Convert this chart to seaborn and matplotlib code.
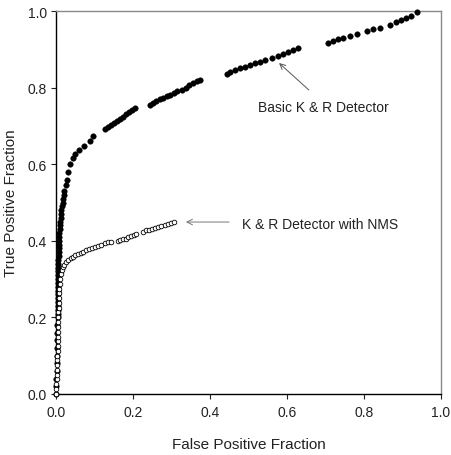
import matplotlib
matplotlib.use("Agg")
import matplotlib.pyplot as plt
import seaborn as sns
import pandas as pd

# Basic K & R detector (filled dots)
basic_fpf = [0.000, 0.001, 0.001, 0.002, 0.002, 0.002, 0.003, 0.003, 0.003, 0.003,
             0.004, 0.004, 0.004, 0.004, 0.004, 0.004, 0.005, 0.005, 0.005, 0.005,
             0.005, 0.005, 0.006, 0.006, 0.006, 0.006, 0.007, 0.007, 0.007, 0.008,
             0.008, 0.009, 0.009, 0.010, 0.010, 0.011, 0.012, 0.013, 0.014, 0.015,
             0.017, 0.018, 0.020, 0.022, 0.025, 0.028,
             0.030, 0.036, 0.043, 0.050, 0.060, 0.072, 0.088, 0.097,
             0.127, 0.135, 0.143, 0.150, 0.158, 0.166, 0.174, 0.182, 0.190, 0.198, 0.205,
             0.244, 0.252, 0.261, 0.270, 0.279, 0.288, 0.297, 0.306, 0.315, 0.326,
             0.337, 0.346, 0.355, 0.365, 0.374,
             0.443, 0.452, 0.465, 0.478, 0.491, 0.504, 0.517, 0.530, 0.543, 0.560,
             0.577, 0.590, 0.603, 0.616, 0.629,
             0.707, 0.720, 0.733, 0.746, 0.763, 0.781, 0.807, 0.824, 0.841, 0.867,
             0.884, 0.897, 0.910, 0.923, 0.937]
basic_tpf = [0.000, 0.020, 0.040, 0.060, 0.080, 0.100, 0.120, 0.140, 0.160, 0.180,
             0.200, 0.210, 0.220, 0.230, 0.240, 0.250, 0.260, 0.270, 0.280, 0.290,
             0.300, 0.310, 0.320, 0.330, 0.340, 0.350, 0.360, 0.370, 0.380, 0.390,
             0.400, 0.410, 0.420, 0.430, 0.440, 0.450, 0.460, 0.470, 0.480, 0.490,
             0.500, 0.510, 0.520, 0.530, 0.545, 0.560,
             0.580, 0.600, 0.615, 0.627, 0.637, 0.648, 0.661, 0.674,
             0.692, 0.697, 0.703, 0.708, 0.714, 0.719, 0.724, 0.730, 0.736, 0.741, 0.746,
             0.755, 0.760, 0.764, 0.769, 0.773, 0.777, 0.781, 0.786, 0.790, 0.795,
             0.800, 0.806, 0.811, 0.816, 0.821,
             0.836, 0.840, 0.845, 0.850, 0.855, 0.859, 0.863, 0.867, 0.871, 0.876,
             0.882, 0.889, 0.893, 0.898, 0.904,
             0.916, 0.922, 0.926, 0.930, 0.935, 0.941, 0.948, 0.953, 0.956, 0.964,
             0.972, 0.976, 0.981, 0.987, 0.997]

# K & R detector with NMS (open circles)
nms_fpf = [0.001, 0.001, 0.001, 0.002, 0.002, 0.002, 0.003, 0.003, 0.003, 0.004,
           0.004, 0.004, 0.005, 0.005, 0.005, 0.006, 0.006, 0.006, 0.007, 0.007,
           0.008, 0.008, 0.009, 0.010, 0.011, 0.012,
           0.015, 0.018, 0.022, 0.027, 0.032, 0.038, 0.044, 0.050, 0.057, 0.064,
           0.071, 0.078, 0.086, 0.094, 0.102, 0.110, 0.118, 0.126, 0.134, 0.142,
           0.160, 0.167, 0.174, 0.181, 0.188, 0.195, 0.202, 0.208,
           0.226, 0.234, 0.242, 0.250, 0.258, 0.266, 0.274, 0.282, 0.290, 0.298, 0.306]
nms_tpf = [0.000, 0.013, 0.025, 0.038, 0.050, 0.063, 0.075, 0.088, 0.100, 0.113,
           0.125, 0.138, 0.150, 0.163, 0.175, 0.188, 0.200, 0.213, 0.225, 0.238,
           0.250, 0.263, 0.275, 0.288, 0.300, 0.313,
           0.325, 0.332, 0.338, 0.344, 0.349, 0.354, 0.358, 0.362, 0.366, 0.369,
           0.372, 0.375, 0.378, 0.381, 0.384, 0.387, 0.390, 0.393, 0.396, 0.398,
           0.400, 0.402, 0.404, 0.406, 0.409, 0.412, 0.416, 0.419,
           0.424, 0.427, 0.429, 0.431, 0.434, 0.436, 0.438, 0.440, 0.443, 0.446, 0.449]

ticks = [0.0, 0.2, 0.4, 0.6, 0.8, 1.0]
tick_labels = ["0.0", "0.2", "0.4", "0.6", "0.8", "1.0"]

basic = pd.DataFrame({"fpf": basic_fpf, "tpf": basic_tpf})
nms = pd.DataFrame({"fpf": nms_fpf, "tpf": nms_tpf})

sns.set_style("ticks")
plt.rcParams["font.family"] = ["Liberation Sans", "DejaVu Sans"]

fig = plt.figure(figsize=(4.52, 4.56), dpi=100)
ax = fig.add_axes([56 / 452, 61 / 456, 385 / 452, 383 / 456])

sns.scatterplot(data=basic, x="fpf", y="tpf", ax=ax, color="black", s=16,
                edgecolor="black", linewidth=0.3, zorder=3, clip_on=False)
sns.scatterplot(data=nms, x="fpf", y="tpf", ax=ax, facecolor="white", s=11,
                edgecolor="black", linewidth=0.6, zorder=4, clip_on=False)

ax.set_xlim(0, 1)
ax.set_ylim(0, 1)
ax.set_xticks(ticks)
ax.set_xticklabels(tick_labels)
ax.set_yticks(ticks)
ax.set_yticklabels(tick_labels)
ax.tick_params(axis="both", direction="out", length=3.5, width=0.8,
               labelsize=10, colors="#222222")
ax.tick_params(axis="x", pad=4.5)
ax.tick_params(axis="y", pad=3)

for side in ["left", "bottom"]:
    ax.spines[side].set_color("black")
    ax.spines[side].set_linewidth(1.0)
for side in ["top", "right"]:
    ax.spines[side].set_visible(True)
    ax.spines[side].set_color("#8a8a8a")
    ax.spines[side].set_linewidth(1.0)

ax.set_xlabel("False Positive Fraction", fontsize=11, labelpad=13, color="#222222")
ax.set_ylabel("True Positive Fraction", fontsize=11, labelpad=7, color="#222222")

ax.annotate("", xy=(0.574, 0.869), xytext=(0.662, 0.789),
            arrowprops=dict(arrowstyle="->", color="#555555", lw=0.7))
ax.text(0.525, 0.749, "Basic K & R Detector", fontsize=10, va="center", ha="left",
        color="#222222")

ax.annotate("", xy=(0.330, 0.449), xytext=(0.457, 0.449),
            arrowprops=dict(arrowstyle="->", color="#777777", lw=0.7))
ax.text(0.483, 0.444, "K & R Detector with NMS", fontsize=10, va="center", ha="left",
        color="#222222")

fig.savefig("out.png", dpi=100)
